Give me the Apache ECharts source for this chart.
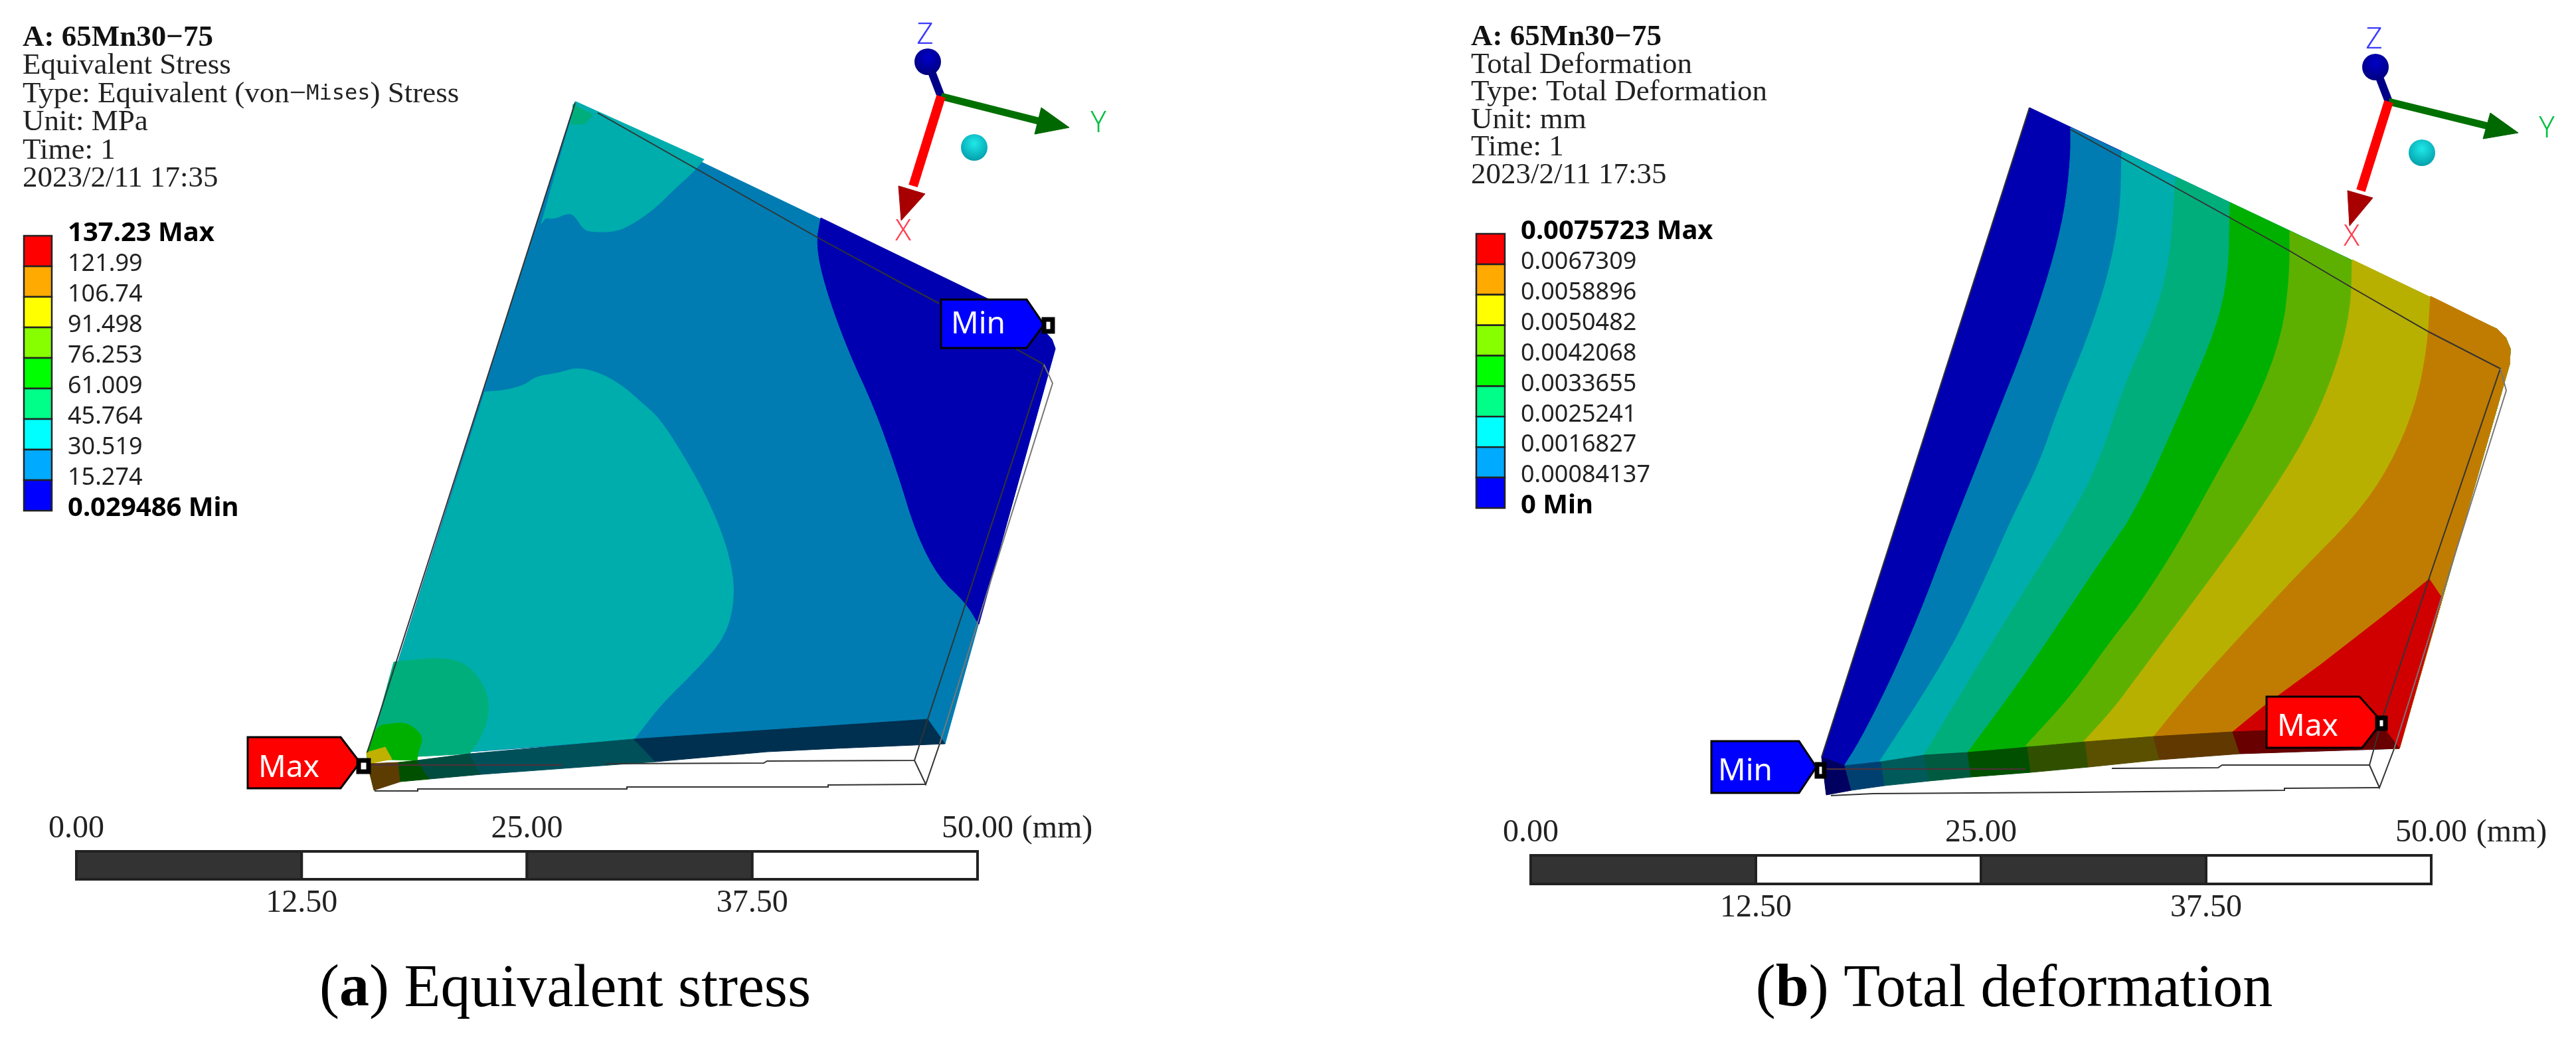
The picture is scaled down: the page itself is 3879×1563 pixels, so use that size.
<!DOCTYPE html>
<html>
<head>
  <title>65Mn30-75 stress and deformation</title>
  <meta http-equiv="Content-Type" content="text/html; charset=utf-8" />
  <script src="https://cdn.jsdelivr.net/npm/echarts@6/dist/echarts.min.js"></script>
  <style>
  	html, body { margin: 0; background: #fff; }
  	#chart-main { width: 3879px; height: 1563px; }
  </style>
</head>
<body>
<div id="chart-main"></div>

<script type="text/javascript">
// legend
var legendColors = ['#ff0000', '#ffaa00', '#ffff00', '#88ff00', '#00ff00', '#00ff88', '#00ffff', '#00aaff', '#0000ff'];
var stressLevels = ['137.23 Max', '121.99', '106.74', '91.498', '76.253', '61.009', '45.764', '30.519', '15.274', '0.029486 Min'];
var deformLevels = ['0.0075723 Max', '0.0067309', '0.0058896', '0.0050482', '0.0042068', '0.0033655', '0.0025241', '0.0016827', '0.00084137', '0 Min'];

// scale bar, mm
var scaleStops = [0, 12.5, 25, 37.5, 50];
var scaleTopLabels = [0, 25, 50];
var scaleBottomLabels = [12.5, 37.5];

// text blocks
var stressInfo = ['{b|A: 65Mn30\u221275}', '{t|Equivalent Stress}', '{t|Type: Equivalent (von\u2212}{m|Mises}{t|) Stress}', '{t|Unit: MPa}', '{t|Time: 1}', '{t|2023/2/11 17:35}'];
var deformInfo = ['{b|A: 65Mn30\u221275}', '{t|Total Deformation}', '{t|Type: Total Deformation}', '{t|Unit: mm}', '{t|Time: 1}', '{t|2023/2/11 17:35}'];

// face colours as rendered on the part
var faceColors = ['#0000b0', '#007cb2', '#00adad', '#00ae7c', '#00b000', '#5eb000', '#b8b000', '#c07c00', '#d00000'];

// panel (a) outlines in image pixels
var stressPlate = [[866,153],[1560,485],[1584,511],[1589,525],[1423,1120],[1397,1083],[553,1143]];
var stressMinCurve = [[1236,328],[1229,368],[1242,430],[1276,525],[1317,614],[1351,709],[1380,804],[1414,870],[1454,907],[1474,940]];
var stressMinEdge = [[1589,525],[1584,511],[1560,485]];
var stressUpperCurve = [[1060,240],[1043,260],[1017,283],[987,313],[953,337],[927,349],[887,349],[877,343],[867,327],[857,320],[833,330],[822,327],[815,337]];
var stressUpperTip = [[867,153]];
var stressLowerCurve = [[730,590],[760,588],[790,580],[807,567],[840,562],[870,553],[907,563],[940,583],[967,607],[993,630],[1030,687],[1070,760],[1098,834],[1107,896],[1093,958],[1047,1010],[995,1061],[955,1113]];
var stressLowerEdge = [[553,1143]];
var stressTipGreen = [[863,157],[893,173],[880,187],[860,187]];
var stressSeaCurve = [[593,997],[627,993],[660,991],[693,995],[720,1017],[737,1053],[733,1090],[720,1117],[707,1135]];
var stressGreenCurve = [[552,1133],[567,1093],[587,1090],[610,1088],[627,1098],[637,1112],[630,1130],[628,1145]];
var stressYellow = [[552,1133],[580,1125],[590,1143],[555,1150]];
var stressStrip = [
	{ c: '#5c3c00', p: [[553,1150],[600,1148],[603,1177],[563,1190]] },
	{ c: '#005000', p: [[600,1148],[628,1145],[647,1173],[603,1177]] },
	{ c: '#004c40', p: [[628,1145],[707,1135],[725,1166],[647,1173]] },
	{ c: '#00505a', p: [[707,1135],[954,1113],[987,1147],[725,1166]] },
	{ c: '#003050', p: [[954,1113],[1397,1083],[1423,1120],[1258,1127],[1155,1132],[987,1147]] }
];
var stressWires = [
	[[866,155],[553,1133]],
	[[900,170],[1230,357],[1414,457]],
	[[1529,525],[1572,549],[1397,1083],[1377,1145],[1155,1146],[1150,1149],[911,1150]],
	[[1415,1120],[1394,1181],[1377,1145]],
	[[1394,1181],[1247,1182],[1247,1185],[944,1185],[944,1188],[629,1188],[629,1191],[564,1191]]
];
var stressGhost = [[1572,549],[1585,577],[1415,1120]];
var stressCoreLine = [[558,1152],[846,1152]];

// panel (b): contour lines from the top edge down to the front strip
var deformPlateEnd = [[3613,1127],[3779,548],[3780,525],[3773,508],[3761,496]];
var deformPlate = [[3056,162],[3761,496],[3773,508],[3780,525],[3779,548],[3613,1127],[3362,1102],[2963,1133],[2778,1153],[2743,1140]];
var deformCurves = [
	[[3118,192],[3118,239],[3109,320],[3087,408],[3050,518],[3006,628],[2978,700],[2933,813],[2890,927],[2843,1033],[2800,1117],[2777,1153]],
	[[3195,228],[3193,320],[3175,415],[3143,511],[3100,614],[3070,700],[3033,773],[2990,870],[2947,960],[2900,1040],[2830,1147]],
	[[3276,266],[3268,393],[3243,482],[3200,577],[3160,700],[3113,787],[3067,860],[3017,940],[2960,1033],[2897,1137]],
	[[3358,305],[3356,415],[3337,496],[3293,599],[3220,763],[3167,840],[3100,940],[3037,1033],[2963,1133]],
	[[3448,348],[3448,415],[3437,504],[3399,606],[3337,716],[3280,820],[3220,913],[3180,963],[3120,1047],[3050,1123]],
	[[3542,391],[3540,467],[3518,555],[3474,658],[3399,775],[3324,878],[3225,1010],[3183,1067],[3137,1117]],
	[[3660,446],[3655,526],[3637,614],[3599,702],[3549,775],[3462,863],[3374,958],[3300,1039],[3243,1109]]
];
var deformRedZone = [[3677,900],[3658,872],[3587,929],[3493,1002],[3412,1061],[3362,1102],[3613,1127]];
var deformStrip = [
	{ c: '#000060', p: [[2743,1140],[2778,1153],[2788,1190],[2750,1197]] },
	{ c: '#004070', p: [[2778,1153],[2833,1147],[2838,1183],[2788,1190]] },
	{ c: '#005a5a', p: [[2833,1147],[2897,1137],[2905,1176],[2838,1183]] },
	{ c: '#005a40', p: [[2897,1137],[2963,1133],[2968,1170],[2905,1176]] },
	{ c: '#005000', p: [[2963,1133],[3053,1125],[3058,1163],[2968,1170]] },
	{ c: '#305000', p: [[3053,1125],[3140,1117],[3145,1155],[3058,1163]] },
	{ c: '#5a5000', p: [[3140,1117],[3243,1109],[3252,1144],[3145,1155]] },
	{ c: '#603800', p: [[3243,1109],[3362,1102],[3373,1135],[3252,1144]] },
	{ c: '#680000', p: [[3362,1102],[3587,1093],[3613,1127],[3373,1135]] }
];
var deformWires = [
	[[3118,195],[3443,375],[3543,434],[3658,500],[3765,555],[3658,870],[3587,1083],[3568,1152],[3346,1152],[3340,1156],[3180,1157]],
	[[3605,1128],[3583,1186],[3568,1152]],
	[[3583,1186],[3440,1187],[3440,1190],[3131,1193],[2821,1195],[2757,1198]],
	[[3056,162],[2743,1140]]
];
var deformGhost = [[3765,555],[3774,588],[3605,1128]];
var deformCoreLine = [[2750,1158],[3050,1158]];

// probe tags
var stressMaxTag = [[373,1110],[513,1110],[542,1148],[513,1187],[373,1187]];
var stressMinTag = [[1417,451],[1546,451],[1572,489],[1546,524],[1417,524]];
var deformMinTag = [[2577,1116],[2709,1116],[2735,1155],[2709,1194],[2577,1194]];
var deformMaxTag = [[3413,1049],[3553,1049],[3587,1087],[3557,1126],[3413,1126]];
var tagBoxes = [[540,1145,15,17],[1572,481,13,18],[2736,1151,11,18],[3580,1081,12,16]];
var tagTexts = [['Max',435,1157],['Min',1473,489],['Min',2628,1162],['Max',3475,1095]];

// axis triads: origin, z ball, y arrow, x arrow, cyan ball, labels
var triads = [
	{ o: [1417,145], z: [1397,93], yEnd: [1567,183], yHead: [[1568,162],[1610,192],[1558,202]],
	  xEnd: [1375,280], xHead: [[1353,280],[1393,292],[1357,332]], ball: [1467,222],
	  labels: [['Z',1393,53,'#3a3aff'],['Y',1654,186,'#00c040'],['X',1360,349,'#ff4050']] },
	{ o: [3597,153], z: [3577,101], yEnd: [3747,190], yHead: [[3750,170],[3792,200],[3739,209]],
	  xEnd: [3555,287], xHead: [[3535,287],[3573,298],[3538,340]], ball: [3647,230],
	  labels: [['Z',3575,60,'#3a3aff'],['Y',3835,194,'#00c040'],['X',3541,357,'#ff4050']] }
];

var shapes = [];

function fill(points, color) { shapes.push({ kind: 'fill', points: points, color: color }); }
function wire(points, color, width) { shapes.push({ kind: 'wire', points: points, color: color, width: width }); }

// rounds the corners of a traced contour, the ends stay where they are
function soften(line) {
	var out = line;
	for (var n = 0; n < 2; n++) {
		var next = [out[0]];
		for (var k = 0; k < out.length - 1; k++) {
			next.push([out[k][0] * 0.75 + out[k + 1][0] * 0.25, out[k][1] * 0.75 + out[k + 1][1] * 0.25]);
			next.push([out[k][0] * 0.25 + out[k + 1][0] * 0.75, out[k][1] * 0.25 + out[k + 1][1] * 0.75]);
		}
		next.push(out[out.length - 1]);
		out = next;
	}
	return out;
}

// panel (a)
fill(stressPlate, faceColors[1]);
fill(soften(stressMinCurve).concat(stressMinEdge), faceColors[0]);
fill(soften(stressUpperCurve).concat(stressUpperTip), faceColors[2]);
fill(soften(stressLowerCurve).concat(stressLowerEdge), faceColors[2]);
fill(stressTipGreen, faceColors[3]);
fill(soften(stressSeaCurve).concat(stressLowerEdge), faceColors[3]);
fill(soften(stressGreenCurve).concat(stressLowerEdge), faceColors[4]);
fill(stressYellow, '#c0b000');
stressStrip.forEach(function (s) { fill(s.p, s.c); });
stressWires.forEach(function (w) { wire(w, '#333', 2); });
wire(stressGhost, '#777', 2);
wire(stressCoreLine, '#503038', 2);

// panel (b): each band paints everything on the far side of its contour
fill(deformPlate, faceColors[0]);
deformCurves.forEach(function (curve, i) {
	fill(soften(curve).concat(deformPlateEnd), faceColors[i + 1]);
});
fill(deformRedZone, faceColors[8]);
deformStrip.forEach(function (s) { fill(s.p, s.c); });
deformWires.forEach(function (w) { wire(w, '#333', 2); });
wire(deformGhost, '#777', 2);
wire(deformCoreLine, '#503038', 2);

// tags
[[stressMaxTag, '#ff0000'], [stressMinTag, '#0000ff'], [deformMinTag, '#0000ff'], [deformMaxTag, '#ff0000']].forEach(function (t) {
	shapes.push({ kind: 'tag', points: t[0], color: t[1] });
});
tagBoxes.forEach(function (b) {
	shapes.push({ kind: 'box', rect: b });
});
tagTexts.forEach(function (t) {
	shapes.push({ kind: 'text', text: t[0], at: [t[1], t[2]], color: '#fff', font: '46px "Noto Sans"' });
});

// triads
triads.forEach(function (t) {
	wire([t.o, t.z], '#000088', 12);
	shapes.push({ kind: 'ball', at: t.z, r: 20, colors: ['#0000c8', '#000078'] });
	wire([t.o, t.yEnd], '#007000', 11);
	fill(t.yHead, '#006800');
	wire([t.o, t.xEnd], '#ff0000', 14);
	fill(t.xHead, '#a80000');
	shapes.push({ kind: 'ball', at: t.ball, r: 20, colors: ['#20e8e8', '#009aa8'] });
	t.labels.forEach(function (l) {
		shapes.push({ kind: 'text', text: l[0], at: [l[1], l[2]], color: l[3], font: '300 44px "Noto Sans"' });
	});
});

// unit on the scale bars
shapes.push({ kind: 'text', text: '(mm)', at: [1592, 1248], color: '#222', font: '48px "Liberation Serif"' });
shapes.push({ kind: 'text', text: '(mm)', at: [3782, 1254], color: '#222', font: '48px "Liberation Serif"' });

function renderShape(params, api) {
	var s = shapes[api.value(0)];
	function pts(list) { return list.map(function (p) { return api.coord(p); }); }

	if (s.kind == 'fill') {
		return { type: 'polygon', shape: { points: pts(s.points) }, style: { fill: s.color, stroke: s.color, lineWidth: 1 } };
	}
	if (s.kind == 'wire') {
		return { type: 'polyline', shape: { points: pts(s.points) }, style: { fill: 'none', stroke: s.color, lineWidth: s.width } };
	}
	if (s.kind == 'tag') {
		return { type: 'polygon', shape: { points: pts(s.points) }, style: { fill: s.color, stroke: '#000', lineWidth: 3 } };
	}
	if (s.kind == 'box') {
		var c = api.coord([s.rect[0], s.rect[1]]);
		return { type: 'rect', shape: { x: c[0], y: c[1], width: s.rect[2], height: s.rect[3] }, style: { fill: '#fff', stroke: '#000', lineWidth: 7 } };
	}
	if (s.kind == 'ball') {
		var b = api.coord(s.at);
		return { type: 'circle', shape: { cx: b[0], cy: b[1], r: s.r }, style: {
			fill: new echarts.graphic.RadialGradient(0.5, 0.35, 0.7, [{ offset: 0, color: s.colors[0] }, { offset: 1, color: s.colors[1] }])
		} };
	}
	var t = api.coord(s.at);
	return { type: 'text', style: { x: t[0], y: t[1], text: s.text, fill: s.color, font: s.font, align: 'center', verticalAlign: 'middle' } };
}

function renderLegendCell(params, api) {
	var top = api.coord([0, api.value(0)]);
	var bottom = api.coord([0, api.value(0) + 1]);
	var left = params.coordSys.x;
	return { type: 'rect', shape: { x: left, y: top[1], width: params.coordSys.width, height: bottom[1] - top[1] },
		style: { fill: legendColors[api.value(0)], stroke: '#222', lineWidth: 2.5 } };
}

function renderScaleCell(params, api) {
	var from = api.coord([api.value(0), 0]);
	var to = api.coord([api.value(1), 0]);
	return { type: 'rect', shape: { x: from[0], y: params.coordSys.y, width: to[0] - from[0], height: params.coordSys.height },
		style: { fill: api.value(2) ? '#333' : '#fff', stroke: '#222', lineWidth: 4 } };
}

function legendLabels(levels) {
	return function (v) {
		var text = levels[v];
		return (v == 0 || v == levels.length - 1) ? '{b|' + text + '}' : text;
	};
}

function hiddenAxis(index, min, max, inverse) {
	return { type: 'value', gridIndex: index, min: min, max: max, inverse: !!inverse, show: false };
}

function legendYAxis(index, levels) {
	return {
		type: 'value', gridIndex: index, min: 0, max: 9, interval: 1, inverse: true, position: 'right',
		axisLine: { show: false }, axisTick: { show: false }, splitLine: { show: false },
		axisLabel: {
			customValues: levels.map(function (l, i) { return i; }),
			formatter: legendLabels(levels), margin: 24, align: 'left', color: '#222', padding: [0, 0, 6, 0],
			fontFamily: 'Noto Sans', fontSize: 36,
			rich: { b: { fontFamily: 'Noto Sans', fontSize: 40, fontWeight: 'bold', color: '#000' } }
		}
	};
}

function scaleXAxis(index, position, labels, margin) {
	return {
		type: 'value', gridIndex: index, min: 0, max: 50, position: position,
		axisLine: { show: false }, axisTick: { show: false }, splitLine: { show: false },
		axisLabel: {
			customValues: labels, margin: margin, color: '#222', showMinLabel: true, showMaxLabel: true,
			fontFamily: 'Liberation Serif', fontSize: 48,
			formatter: function (v) { return v.toFixed(2); }
		}
	};
}

function infoTitle(lines, left, step) {
	return {
		text: lines.join('\n'), left: left, top: 36, padding: 0,
		textStyle: {
			fontWeight: 'normal',
			rich: {
				b: { fontFamily: 'Liberation Serif', fontSize: 45, fontWeight: 'bold', color: '#111', lineHeight: step },
				t: { fontFamily: 'Liberation Serif', fontSize: 45, fontWeight: 'normal', color: '#222', lineHeight: step },
				m: { fontFamily: 'DejaVu Sans Mono', fontSize: 32, fontWeight: 'normal', color: '#222', lineHeight: step }
			}
		}
	};
}

function captionTitle(letter, text, center) {
	return {
		text: '{t|(}{b|' + letter + '}{t|) ' + text + '}', left: center, textAlign: 'center', top: 1446, padding: 0,
		textStyle: {
			fontWeight: 'normal',
			rich: {
				t: { fontFamily: 'Liberation Serif', fontSize: 90, fontWeight: 'normal', color: '#000' },
				b: { fontFamily: 'Liberation Serif', fontSize: 90, fontWeight: 'bold', color: '#000' }
			}
		}
	};
}

var scaleCells = [];
for (var i = 0; i < scaleStops.length - 1; i++) {
	scaleCells.push([scaleStops[i], scaleStops[i + 1], i % 2 == 0 ? 1 : 0]);
}
var legendCells = legendColors.map(function (c, i) { return [i]; });

var myChart = echarts.init(document.getElementById('chart-main'));
myChart.setOption({
	backgroundColor: '#fff',
	animation: false,
	title: [
		infoTitle(stressInfo, 34, 42.4),
		infoTitle(deformInfo, 2215, 41.4),
		captionTitle('a', 'Equivalent stress', 851),
		captionTitle('b', 'Total deformation', 3033)
	],
	grid: [
		{ left: 0, top: 0, width: 3879, height: 1563 },
		{ left: 36, top: 355, width: 42, height: 414 },
		{ left: 2223, top: 352, width: 43, height: 413 },
		{ left: 115, top: 1282, width: 1357, height: 42 },
		{ left: 2305, top: 1288, width: 1356, height: 43 }
	],
	xAxis: [
		hiddenAxis(0, 0, 3879),
		hiddenAxis(1, 0, 1),
		hiddenAxis(2, 0, 1),
		scaleXAxis(3, 'top', scaleTopLabels, 10),
		scaleXAxis(4, 'top', scaleTopLabels, 10),
		scaleXAxis(3, 'bottom', scaleBottomLabels, 12),
		scaleXAxis(4, 'bottom', scaleBottomLabels, 12)
	],
	yAxis: [
		hiddenAxis(0, 0, 1563, true),
		legendYAxis(1, stressLevels),
		legendYAxis(2, deformLevels),
		hiddenAxis(3, 0, 1),
		hiddenAxis(4, 0, 1)
	],
	series: [
		{ type: 'custom', xAxisIndex: 0, yAxisIndex: 0, silent: true, clip: false, renderItem: renderShape,
		  data: shapes.map(function (s, i) { return [i]; }) },
		{ type: 'custom', xAxisIndex: 1, yAxisIndex: 1, silent: true, clip: false, renderItem: renderLegendCell, encode: { y: 0 }, data: legendCells },
		{ type: 'custom', xAxisIndex: 2, yAxisIndex: 2, silent: true, clip: false, renderItem: renderLegendCell, encode: { y: 0 }, data: legendCells },
		{ type: 'custom', xAxisIndex: 3, yAxisIndex: 3, silent: true, clip: false, renderItem: renderScaleCell, encode: { x: [0, 1] }, data: scaleCells },
		{ type: 'custom', xAxisIndex: 4, yAxisIndex: 4, silent: true, clip: false, renderItem: renderScaleCell, encode: { x: [0, 1] }, data: scaleCells }
	]
});
</script>
</body>
</html>
